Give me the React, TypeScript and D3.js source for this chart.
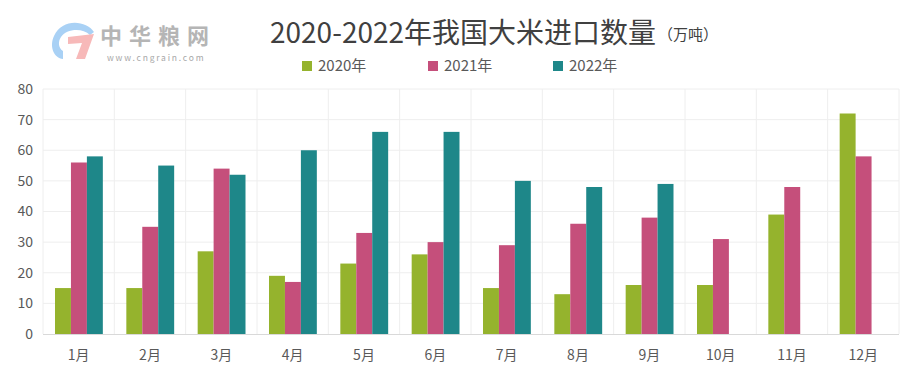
import { useEffect, useRef } from 'react';
import * as d3 from 'd3';

const months = ['1月', '2月', '3月', '4月', '5月', '6月', '7月', '8月', '9月', '10月', '11月', '12月'];
const seriesNames = ['2020年', '2021年', '2022年'];
const values2020 = [15, 15, 27, 19, 23, 26, 15, 13, 16, 16, 39, 72];
const values2021 = [56, 35, 54, 17, 33, 30, 29, 36, 38, 31, 48, 58];
const values2022: (number | null)[] = [58, 55, 52, 60, 66, 66, 50, 48, 49, null, null, null];
const yTicks = [0, 10, 20, 30, 40, 50, 60, 70, 80];

const colors = ['#95b32d', '#c54f7b', '#1e8789'];
const FONT = "'Microsoft YaHei', 'Noto Sans CJK SC', 'Noto Sans', sans-serif";

export default function App() {
  const svgRef = useRef<SVGSVGElement>(null);

  useEffect(() => {
    if (!svgRef.current) return;
    const width = 919;
    const height = 372;
    const margin = { top: 89, right: 20, bottom: 38, left: 43 };
    const innerW = width - margin.left - margin.right;
    const innerH = height - margin.top - margin.bottom;

    const svg = d3.select(svgRef.current);
    svg.selectAll('*').remove();
    svg.attr('width', width).attr('height', height);

    // frame
    svg.append('rect')
      .attr('x', 1.5).attr('y', 1.5)
      .attr('width', width - 3).attr('height', height - 3)
      .attr('fill', '#fff')
      .attr('stroke', '#d9d9d9');

    const series = [values2020, values2021, values2022];

    const x0 = d3.scaleBand().domain(months).range([0, innerW]).paddingInner(0).paddingOuter(0);
    const x1 = d3.scaleBand<number>().domain([0, 1, 2]).range([12, x0.bandwidth() - 11.5]).padding(0);
    const y = d3.scaleLinear().domain([0, 80]).range([innerH, 0]);

    const g = svg.append('g').attr('transform', `translate(${margin.left},${margin.top})`);

    // horizontal grid
    g.append('g')
      .selectAll('line')
      .data(yTicks.slice(1))
      .join('line')
      .attr('x1', 0).attr('x2', innerW)
      .attr('y1', d => y(d)).attr('y2', d => y(d))
      .attr('stroke', '#eeeeee');

    // vertical grid at band boundaries
    g.append('g')
      .selectAll('line')
      .data(months.map(m => x0(m)!).concat([innerW]))
      .join('line')
      .attr('x1', d => d).attr('x2', d => d)
      .attr('y1', 0).attr('y2', innerH)
      .attr('stroke', '#eeeeee');

    // bars
    months.forEach((m, i) => {
      series.forEach((s, k) => {
        const v = s[i];
        if (v == null) return;
        g.append('rect')
          .attr('x', x0(m)! + x1(k)!)
          .attr('width', x1.bandwidth())
          .attr('y', y(v))
          .attr('height', innerH - y(v))
          .attr('fill', colors[k]);
      });
    });

    // x axis line
    g.append('line')
      .attr('x1', 0).attr('x2', innerW)
      .attr('y1', innerH + 0.5).attr('y2', innerH + 0.5)
      .attr('stroke', '#d9d9d9');

    // y labels
    g.append('g')
      .selectAll('text')
      .data(yTicks)
      .join('text')
      .attr('x', -10)
      .attr('y', d => y(d))
      .attr('dy', '0.35em')
      .attr('text-anchor', 'end')
      .attr('font-family', FONT)
      .attr('font-size', 14)
      .attr('fill', '#595959')
      .text(d => d);

    // x labels
    g.append('g')
      .selectAll('text')
      .data(months)
      .join('text')
      .attr('x', d => x0(d)! + x0.bandwidth() / 2)
      .attr('y', innerH + 26)
      .attr('text-anchor', 'middle')
      .attr('font-family', FONT)
      .attr('font-size', 14)
      .attr('fill', '#595959')
      .text(d => d);

    // title
    const title = svg.append('text')
      .attr('x', 270).attr('y', 43)
      .attr('font-family', FONT)
      .attr('fill', '#404040');
    title.append('tspan').attr('font-size', 28).text('2020-2022年我国大米进口数量');
    title.append('tspan').attr('font-size', 15).attr('dx', 2).attr('dy', -3).text('（万吨）');

    // legend
    const legendX = [302, 428, 553];
    seriesNames.forEach((name, k) => {
      svg.append('rect')
        .attr('x', legendX[k]).attr('y', 61)
        .attr('width', 10).attr('height', 10)
        .attr('fill', colors[k]);
      svg.append('text')
        .attr('x', legendX[k] + 16).attr('y', 71)
        .attr('font-family', FONT)
        .attr('font-size', 15)
        .attr('fill', '#595959')
        .text(name);
    });

    // logo
    const logo = svg.append('g');
    logo.append('path')
      .attr('d', 'M94,32 C86,20 62,18 54,36 C49,47 54,58 63,59 L63,51 C58,48 58,41 61,37 C66,29 82,27 90,35 Z')
      .attr('fill', '#a9d1f5');
    logo.append('path')
      .attr('d', 'M68,37 L94,34 L85,59 L76,59 L82,43 L68,44 Z')
      .attr('fill', '#f7b9b9');
    logo.append('text')
      .attr('x', 100).attr('y', 44)
      .attr('font-family', FONT)
      .attr('font-size', 22)
      .attr('font-weight', 'bold')
      .attr('letter-spacing', 7)
      .attr('fill', '#b5b5b5')
      .text('中华粮网');
    logo.append('text')
      .attr('x', 107).attr('y', 61)
      .attr('font-family', FONT)
      .attr('font-size', 8.5)
      .attr('letter-spacing', 1.8)
      .attr('fill', '#a8a8a8')
      .text('www.cngrain.com');
  }, []);

  return (
    <div style={{ margin: -8 }}>
      <svg ref={svgRef} style={{ display: 'block' }}></svg>
    </div>
  );
}
